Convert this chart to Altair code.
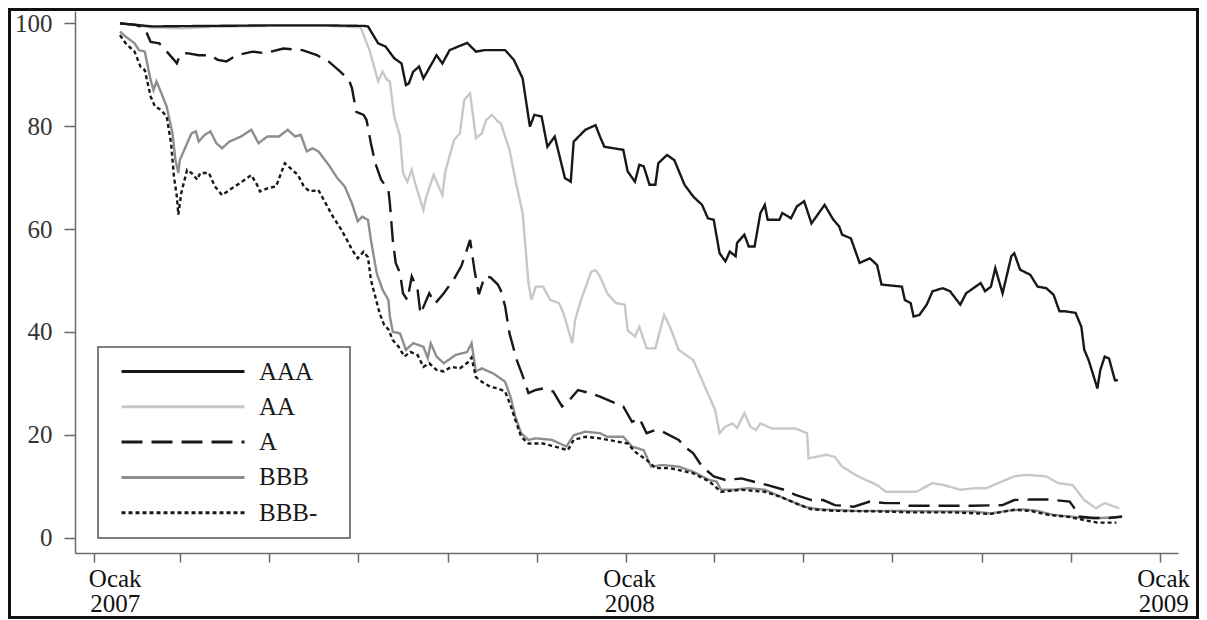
import altair as alt
import pandas as pd

# ---------------- data ----------------
START = "2007-01-01"  # day offsets below are counted from this date

series_order = ["AAA", "AA", "A", "BBB", "BBB-"]
line_colors = ["#181818", "#c8c8c8", "#181818", "#8e8e8e", "#181818"]
line_dashes = [[1, 0], [1, 0], [21, 9], [1, 0], [4, 3]]
draw_order = ["AA", "BBB", "A", "BBB-", "AAA"]

aaa = [(18, 100.0), (40, 99.4), (80, 99.5), (120, 99.6), (160, 99.6), (185, 99.5), (188, 99.4), (195, 96.1),
       (200, 95.5), (206, 93.2), (211, 92.2), (214, 88.0), (216, 88.3), (219, 90.6), (223, 91.6), (226, 89.3),
       (235, 93.8), (239, 92.2), (244, 94.8), (250, 95.5), (256, 96.2), (262, 94.5), (268, 94.8), (274, 94.8),
       (282, 94.8), (288, 92.9), (294, 89.3), (299, 79.9), (302, 82.2), (307, 81.9), (311, 76.0), (316, 78.0),
       (323, 69.9), (327, 69.2), (329, 77.0), (337, 79.3), (344, 80.2), (347, 78.0), (350, 76.0), (363, 75.4),
       (366, 71.2), (371, 69.2), (374, 72.5), (377, 72.2), (381, 68.6), (385, 68.6), (387, 72.8), (393, 74.4),
       (398, 73.4), (405, 68.6), (411, 66.3), (417, 64.7), (421, 62.1), (425, 61.8), (429, 55.3), (433, 53.7),
       (436, 55.6), (440, 54.7), (441, 57.3), (446, 58.9), (449, 56.6), (453, 56.6), (457, 63.1), (460, 64.7),
       (462, 61.8), (470, 61.8), (472, 63.1), (478, 62.1), (482, 64.4), (487, 65.4), (492, 61.1), (497, 63.1),
       (501, 64.7), (507, 61.8), (511, 60.5), (513, 58.9), (519, 58.2), (525, 53.4), (532, 54.3), (537, 53.0),
       (540, 49.2), (554, 48.8), (556, 46.2), (560, 45.6), (562, 43.0), (566, 43.3), (571, 45.3), (575, 47.9),
       (582, 48.5), (587, 47.9), (594, 45.3), (598, 47.5), (608, 49.5), (611, 47.9), (615, 48.8), (618, 52.4),
       (623, 47.5), (629, 54.7), (631, 55.3), (635, 52.1), (642, 51.1), (647, 48.8), (653, 48.5), (658, 47.2),
       (662, 44.0), (666, 44.0), (673, 43.7), (677, 41.0), (679, 36.5), (682, 34.5), (688, 29.0), (690, 32.6),
       (693, 35.2), (696, 34.8), (700, 30.6), (702, 30.6)]

aa = [(18, 100.0), (40, 99.2), (60, 99.0), (80, 99.3), (120, 99.5), (160, 99.5), (183, 99.2), (189, 94.8),
      (195, 88.7), (198, 90.6), (201, 89.0), (203, 88.7), (206, 81.9), (210, 78.0), (212, 70.9), (215, 69.2),
      (218, 71.5), (220, 69.2), (226, 63.7), (228, 66.3), (233, 70.5), (239, 66.6), (241, 71.2), (247, 77.3),
      (251, 78.6), (254, 85.1), (258, 86.4), (262, 77.7), (266, 78.6), (269, 81.2), (273, 82.2), (277, 80.9),
      (279, 80.6), (285, 75.4), (289, 69.6), (294, 63.1), (298, 49.5), (300, 46.2), (303, 48.8), (308, 48.8),
      (313, 46.2), (319, 45.6), (322, 43.6), (328, 37.8), (330, 42.3), (334, 46.2), (341, 51.7), (344, 52.0),
      (347, 50.8), (352, 47.5), (358, 45.6), (364, 45.3), (366, 40.3), (371, 39.1), (374, 41.0), (379, 36.8),
      (385, 36.8), (391, 43.3), (395, 41.0), (401, 36.5), (411, 34.5), (419, 29.3), (426, 24.8), (429, 20.3),
      (433, 21.6), (438, 22.2), (441, 21.3), (446, 24.2), (450, 21.6), (454, 20.9), (457, 22.2), (465, 21.2),
      (476, 21.2), (481, 21.2), (489, 20.3), (490, 15.4), (502, 16.1), (508, 15.7), (513, 13.8), (524, 11.9),
      (537, 10.2), (543, 8.9), (551, 8.9), (564, 8.9), (575, 10.6), (583, 10.2), (594, 9.3), (604, 9.6),
      (612, 9.6), (620, 10.6), (631, 11.9), (639, 12.2), (653, 11.9), (661, 10.6), (671, 10.2), (679, 7.3),
      (687, 5.7), (693, 6.7), (697, 6.3), (703, 5.7)]

a_ = [(18, 100.0), (29, 99.7), (35, 99.0), (39, 96.4), (45, 96.1), (51, 94.2), (55, 92.9), (57, 92.2), (59, 93.8),
      (64, 94.2), (72, 93.8), (80, 93.8), (85, 92.9), (91, 92.6), (98, 93.8), (109, 94.5), (117, 94.2), (130, 95.1),
      (143, 94.8), (153, 93.8), (161, 92.6), (169, 90.6), (175, 89.0), (177, 87.4), (180, 82.8), (185, 82.2),
      (187, 81.2), (190, 76.7), (193, 72.8), (197, 69.6), (202, 67.6), (203, 65.0), (205, 57.9), (207, 53.4),
      (210, 51.4), (212, 47.5), (215, 46.2), (218, 50.8), (222, 48.2), (224, 43.5), (230, 47.5), (234, 45.5),
      (240, 47.5), (247, 50.3), (252, 52.8), (255, 55.3), (258, 57.9), (261, 52.0), (264, 47.3), (268, 50.8),
      (272, 50.6), (277, 49.2), (279, 48.1), (282, 45.0), (285, 39.7), (290, 34.5), (294, 31.5), (298, 28.1),
      (303, 28.7), (308, 29.0), (315, 28.4), (321, 25.5), (326, 26.7), (332, 28.7), (340, 28.1), (347, 27.4),
      (358, 26.1), (363, 25.5), (369, 22.5), (374, 23.2), (379, 20.3), (385, 20.9), (390, 20.6), (401, 19.0),
      (405, 17.7), (411, 16.4), (417, 13.8), (425, 11.9), (433, 11.2), (444, 11.5), (452, 10.9), (462, 10.2),
      (473, 9.3), (481, 8.3), (492, 7.3), (500, 7.3), (508, 6.3), (521, 6.0), (532, 7.0), (543, 6.7), (554, 6.7),
      (559, 6.2), (575, 6.2), (602, 6.2), (623, 6.3), (631, 7.3), (642, 7.4), (655, 7.4), (669, 7.0), (673, 5.4),
      (675, 4.1), (685, 3.8), (696, 3.8), (705, 4.1)]

bbb = [(18, 98.4), (22, 97.4), (28, 96.1), (31, 94.8), (35, 94.5), (39, 89.0), (41, 87.0), (43, 88.7), (46, 86.7),
       (50, 83.8), (54, 78.6), (56, 73.4), (58, 70.9), (59, 73.4), (63, 76.0), (67, 78.6), (70, 79.0), (72, 77.0),
       (76, 78.3), (80, 79.0), (84, 76.7), (88, 75.7), (93, 77.0), (101, 78.0), (108, 79.3), (113, 76.7),
       (119, 78.0), (127, 78.0), (133, 79.3), (138, 78.0), (142, 78.3), (146, 75.1), (150, 75.7), (154, 75.1),
       (161, 72.5), (167, 69.9), (172, 68.3), (177, 65.0), (181, 61.5), (184, 62.4), (188, 61.8), (190, 57.9),
       (194, 51.4), (198, 48.2), (202, 46.2), (203, 43.0), (205, 40.0), (210, 39.7), (214, 36.5), (219, 37.8),
       (226, 37.1), (229, 34.9), (231, 37.8), (235, 35.2), (240, 33.9), (248, 35.5), (256, 36.1), (259, 37.8),
       (262, 32.3), (266, 32.9), (274, 31.9), (282, 30.3), (286, 27.1), (289, 23.5), (293, 20.3), (298, 19.0),
       (303, 19.3), (314, 19.0), (324, 17.7), (329, 19.9), (337, 20.6), (347, 20.3), (352, 19.6), (363, 19.6),
       (369, 17.7), (377, 17.0), (382, 13.8), (390, 14.1), (401, 13.8), (411, 12.8), (422, 11.2), (427, 10.9),
       (430, 9.3), (438, 9.3), (449, 9.6), (460, 9.3), (468, 8.3), (476, 7.3), (487, 6.0), (497, 5.5), (521, 5.2),
       (548, 5.2), (575, 5.1), (602, 5.1), (615, 4.7), (626, 5.2), (637, 5.5), (647, 5.2), (658, 4.4), (669, 4.1),
       (679, 3.8), (690, 3.8), (704, 4.0)]

bbb_minus = [(18, 97.7), (22, 96.1), (28, 94.5), (32, 91.6), (35, 90.9), (39, 85.8), (42, 83.8), (46, 83.2),
             (50, 81.9), (53, 76.7), (55, 70.2), (57, 66.3), (58, 62.8), (60, 67.0), (64, 71.5), (67, 70.9),
             (71, 69.6), (73, 70.9), (79, 70.9), (83, 68.3), (88, 66.6), (93, 67.6), (100, 68.9), (108, 70.5),
             (112, 68.6), (114, 67.3), (119, 67.9), (125, 68.3), (131, 72.8), (135, 71.8), (140, 70.5), (144, 68.3),
             (148, 67.3), (154, 67.6), (159, 65.0), (164, 62.4), (169, 60.2), (173, 58.2), (177, 56.0), (181, 54.3),
             (185, 55.6), (188, 54.5), (190, 50.1), (196, 43.6), (199, 41.4), (202, 40.5), (205, 38.4), (209, 37.1),
             (213, 35.2), (217, 36.1), (222, 35.5), (226, 33.2), (230, 33.9), (235, 32.6), (240, 32.3), (245, 33.2),
             (251, 32.9), (257, 34.2), (259, 35.0), (262, 31.2), (266, 30.3), (272, 29.3), (277, 29.0), (282, 28.4),
             (286, 25.5), (289, 22.9), (293, 19.6), (298, 18.3), (308, 18.3), (316, 17.7), (325, 17.0), (329, 19.0),
             (337, 19.6), (347, 19.3), (358, 18.7), (366, 18.3), (371, 16.7), (379, 15.1), (385, 13.5), (395, 13.5),
             (411, 12.5), (422, 10.9), (430, 8.9), (444, 9.3), (460, 8.9), (470, 8.0), (481, 6.7), (492, 5.5),
             (508, 5.2), (535, 5.1), (562, 4.9), (588, 4.9), (615, 4.6), (631, 5.4), (642, 5.2), (655, 4.4),
             (669, 4.0), (679, 3.4), (688, 2.9), (701, 2.9)]

series_data = {"AAA": aaa, "AA": aa, "A": a_, "BBB": bbb, "BBB-": bbb_minus}

y_ticks = [0, 20, 40, 60, 80, 100]
x_tick_months = [(2007, 1), (2007, 3), (2007, 5), (2007, 7), (2007, 9), (2007, 11),
                 (2008, 1), (2008, 3), (2008, 5), (2008, 7), (2008, 9), (2008, 11), (2009, 1)]
x_label_word = "Ocak"

# ---------------- table ----------------
base = pd.Timestamp(START)
rows = []
for name in draw_order:
    for d, v in series_data[name]:
        rows.append({"series": name,
                     "date": (base + pd.Timedelta(days=d)).strftime("%Y-%m-%d"),
                     "value": v})
df = pd.DataFrame(rows)

FONT = "Liberation Serif"
FS = 25
AXIS_GRAY = "#6a6a6a"

legend = alt.Legend(
    title=None, orient="none", legendX=23, legendY=334, direction="vertical",
    symbolType="stroke", symbolSize=15129, symbolStrokeWidth=3, symbolOffset=8,
    labelFont=FONT, labelFontSize=FS, labelColor="#1a1a1a", labelOffset=13,
    padding=14, rowPadding=9.3, clipHeight=25,
)

x_axis = alt.Axis(
    title=None, grid=False,
    values=[alt.DateTime(year=y, month=m, date=1, utc=True) for y, m in x_tick_months],
    labelExpr="utcmonth(datum.value) == 0 ? ['" + x_label_word + "', '' + utcyear(datum.value)] : ''",
    labelFont=FONT, labelFontSize=FS, labelColor="#111111", labelLineHeight=25,
    labelBaseline="top", labelAlign="center", labelPadding=4,
    labelOffset={"condition": {"test": "utcyear(datum.value) == 2007", "value": 21}, "value": 3},
    labelOverlap=False, labelBound=False, labelFlush=False,
    tickSize=9, tickColor=AXIS_GRAY, tickWidth=1.5,
    domainColor=AXIS_GRAY, domainWidth=1.5,
)

y_axis = alt.Axis(
    title=None, grid=False, values=y_ticks,
    labelFont=FONT, labelFontSize=FS, labelColor="#333333", labelPadding=12,
    tickSize=11, tickColor=AXIS_GRAY, tickWidth=1.5,
    domainColor=AXIS_GRAY, domainWidth=1.5,
)

lines = alt.Chart(df).mark_line(strokeWidth=2.4).encode(
    x=alt.X("date:T",
            scale=alt.Scale(type="utc",
                            domain=[alt.DateTime(year=2006, month=12, date=19, hours=4, utc=True),
                                    alt.DateTime(year=2009, month=1, date=13, hours=6, utc=True)]),
            axis=x_axis),
    y=alt.Y("value:Q", scale=alt.Scale(domain=[-3, 102.4], nice=False, zero=False), axis=y_axis),
    color=alt.Color("series:N", scale=alt.Scale(domain=series_order, range=line_colors), legend=legend),
    strokeDash=alt.StrokeDash("series:N", scale=alt.Scale(domain=series_order, range=line_dashes), legend=legend),
)

# decorative boxes: outer frame and the legend's border
legend_box = alt.Chart(alt.Data(values=[{"k": 1}])).mark_rect(
    filled=False, stroke="#555555", strokeWidth=1.5
).encode(
    x=alt.value(23), x2=alt.value(275), y=alt.value(336), y2=alt.value(527)
)

frame = alt.Chart(alt.Data(values=[{"k": 1}])).mark_rect(
    filled=False, stroke="#111111", strokeWidth=3
).encode(
    x=alt.value(-65.5), x2=alt.value(1122.5), y=alt.value(-1.5), y2=alt.value(606.5)
)

chart = alt.layer(lines, legend_box, frame).properties(
    width=1103, height=542,
    padding={"left": 67, "top": 3, "right": 21, "bottom": 66},
    autosize=alt.AutoSizeParams(type="none"),
).configure_view(stroke=None)

chart.save("out.html", embed_options={"renderer": "svg", "actions": False})
